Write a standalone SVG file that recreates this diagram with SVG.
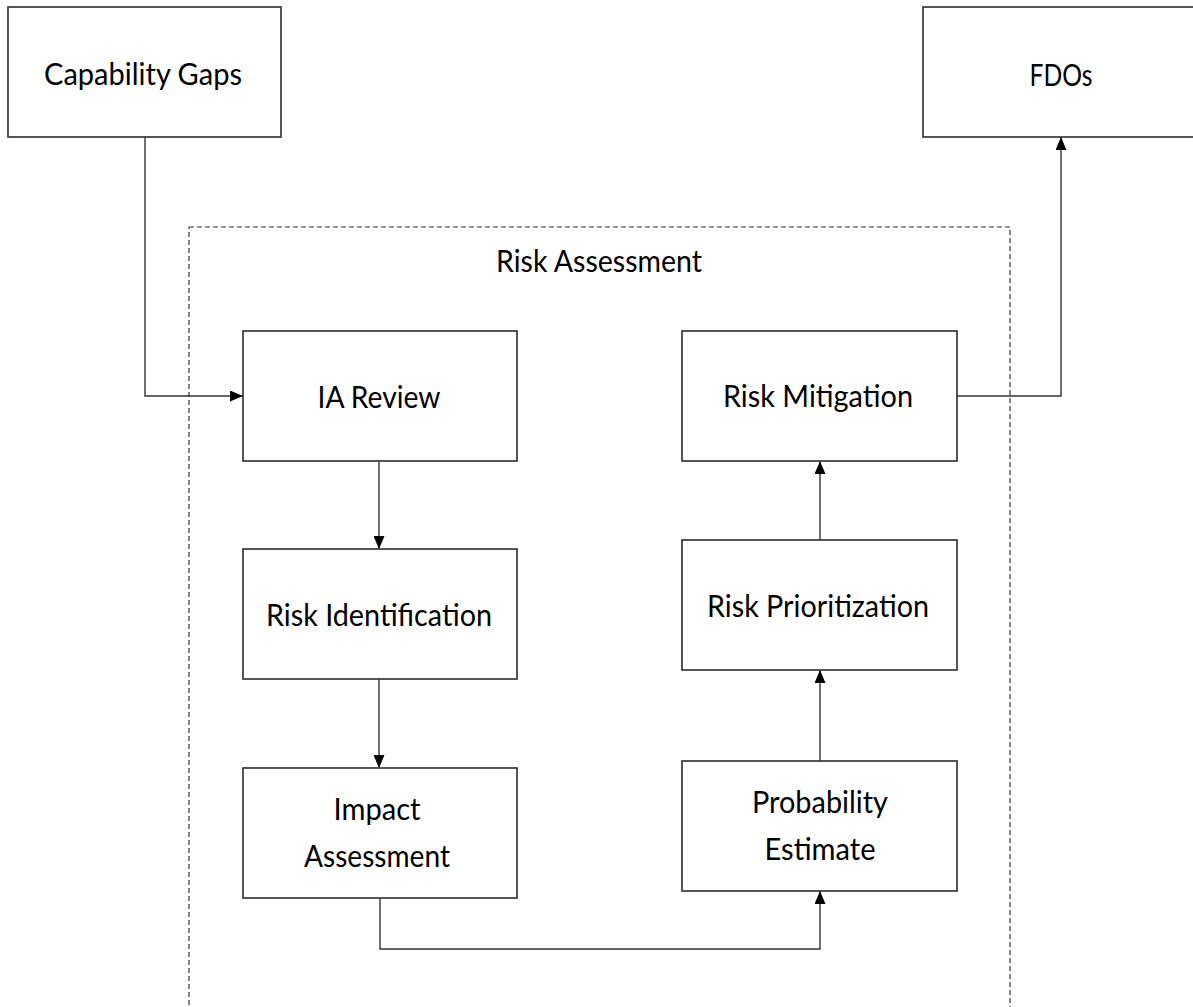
<svg xmlns="http://www.w3.org/2000/svg" width="1193" height="1007" viewBox="0 0 1193 1007">
  <style>
    .box { fill: #ffffff; stroke: #383838; stroke-width: 1.7; }
    .frame { fill: none; stroke: #333333; stroke-width: 1.2; stroke-dasharray: 5 3; }
    .wire { fill: none; stroke: #333333; stroke-width: 1.4; }
    .lbl { font-family: Lato, "Open Sans", "Liberation Sans", sans-serif; font-size: 30px; fill: #000000; text-anchor: middle; }
  </style>
  <defs>
    <marker id="arrow" viewBox="0 0 13 11" refX="13" refY="5.5" markerWidth="13" markerHeight="11" markerUnits="userSpaceOnUse" orient="auto">
      <path d="M0,0 L13,5.5 L0,11 Z" fill="#000000"/>
    </marker>
  </defs>
  <rect width="1193" height="1007" fill="#ffffff"/>

  <!-- Risk Assessment container -->
  <g id="risk-assessment">
    <rect class="frame" x="189" y="227" width="821" height="800"/>
    <text class="lbl" x="599" y="272" textLength="206" lengthAdjust="spacingAndGlyphs">Risk Assessment</text>
  </g>

  <!-- connectors -->
  <g id="connectors">
    <path class="wire" d="M145,137 V396 H243" marker-end="url(#arrow)"/>
    <path class="wire" d="M379,461 V549" marker-end="url(#arrow)"/>
    <path class="wire" d="M379,679 V768" marker-end="url(#arrow)"/>
    <path class="wire" d="M380,898 V949 H820 V891" marker-end="url(#arrow)"/>
    <path class="wire" d="M820,761 V670" marker-end="url(#arrow)"/>
    <path class="wire" d="M820,540 V461" marker-end="url(#arrow)"/>
    <path class="wire" d="M957,396 H1061 V137" marker-end="url(#arrow)"/>
  </g>

  <g id="capability-gaps">
    <rect class="box" x="8" y="7" width="273" height="130"/>
    <text class="lbl" x="143" y="85" textLength="198" lengthAdjust="spacingAndGlyphs">Capability Gaps</text>
  </g>

  <g id="fdos">
    <rect class="box" x="923" y="7" width="290" height="130"/>
    <text class="lbl" x="1061" y="86" textLength="63" lengthAdjust="spacingAndGlyphs">FDOs</text>
  </g>

  <g id="ia-review">
    <rect class="box" x="243" y="331" width="274" height="130"/>
    <text class="lbl" x="379" y="408" textLength="123" lengthAdjust="spacingAndGlyphs">IA Review</text>
  </g>

  <g id="risk-identification">
    <rect class="box" x="243" y="549" width="274" height="130"/>
    <text class="lbl" x="379" y="626" textLength="226" lengthAdjust="spacingAndGlyphs">Risk Identification</text>
  </g>

  <g id="impact-assessment">
    <rect class="box" x="243" y="768" width="274" height="130"/>
    <text class="lbl" x="377" y="820" textLength="87" lengthAdjust="spacingAndGlyphs">Impact</text>
    <text class="lbl" x="377" y="867" textLength="146" lengthAdjust="spacingAndGlyphs">Assessment</text>
  </g>

  <g id="probability-estimate">
    <rect class="box" x="682" y="761" width="275" height="130"/>
    <text class="lbl" x="820" y="813" textLength="136" lengthAdjust="spacingAndGlyphs">Probability</text>
    <text class="lbl" x="820" y="860" textLength="111" lengthAdjust="spacingAndGlyphs">Estimate</text>
  </g>

  <g id="risk-prioritization">
    <rect class="box" x="682" y="540" width="275" height="130"/>
    <text class="lbl" x="818" y="617" textLength="222" lengthAdjust="spacingAndGlyphs">Risk Prioritization</text>
  </g>

  <g id="risk-mitigation">
    <rect class="box" x="682" y="331" width="275" height="130"/>
    <text class="lbl" x="818" y="407" textLength="190" lengthAdjust="spacingAndGlyphs">Risk Mitigation</text>
  </g>
</svg>
